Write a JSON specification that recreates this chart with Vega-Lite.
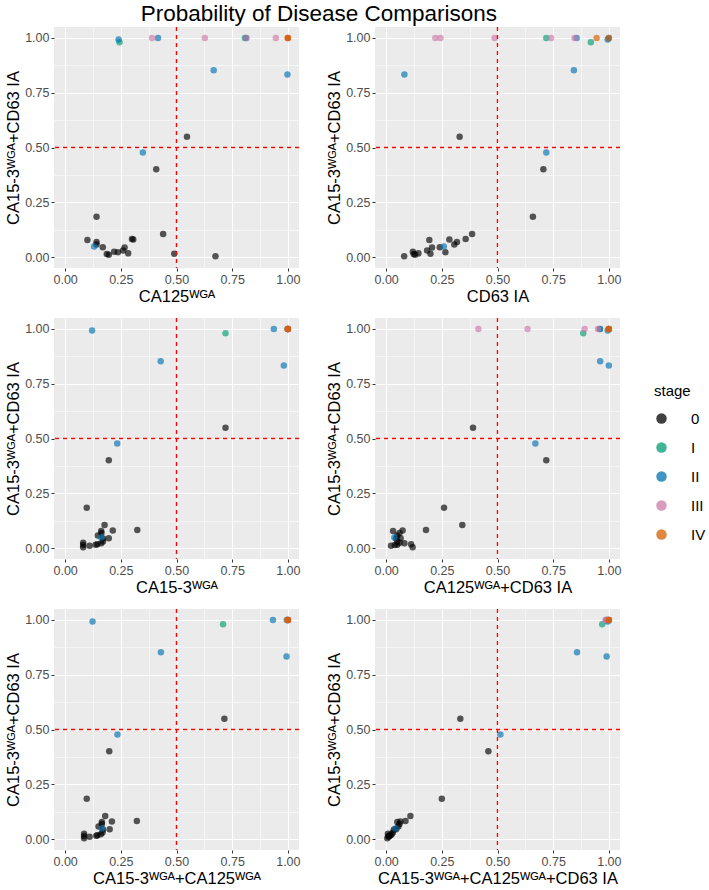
{
  "$schema": "https://vega.github.io/schema/vega-lite/v6.json",
  "padding": {"left": 5, "top": 2, "right": 5, "bottom": 2},
  "title": {"text": "Probability of Disease Comparisons", "fontSize": 22.5, "font": "Liberation Sans", "fontWeight": "normal", "anchor": "start", "frame": "bounds", "dx": 135, "color": "#000000", "offset": 1},
  "data": {"values": [
    {"stage": "0", "y": 0.549, "ca125": 0.547, "cd63": 0.33, "ca153": 0.72, "ca125_cd63": 0.39, "ca153_ca125": 0.715, "all3": 0.333},
    {"stage": "0", "y": 0.401, "ca125": 0.409, "cd63": 0.706, "ca153": 0.196, "ca125_cd63": 0.719, "ca153_ca125": 0.198, "all3": 0.459},
    {"stage": "0", "y": 0.184, "ca125": 0.141, "cd63": 0.659, "ca153": 0.097, "ca125_cd63": 0.26, "ca153_ca125": 0.097, "all3": 0.25},
    {"stage": "0", "y": 0.105, "ca125": 0.44, "cd63": 0.386, "ca153": 0.177, "ca125_cd63": 0.342, "ca153_ca125": 0.18, "all3": 0.109},
    {"stage": "0", "y": 0.082, "ca125": 0.30, "cd63": 0.357, "ca153": 0.324, "ca125_cd63": 0.179, "ca153_ca125": 0.322, "all3": 0.087},
    {"stage": "0", "y": 0.080, "ca125": 0.306, "cd63": 0.284, "ca153": 0.214, "ca125_cd63": 0.074, "ca153_ca125": 0.21, "all3": 0.064},
    {"stage": "0", "y": 0.078, "ca125": 0.10, "cd63": 0.194, "ca153": 0.162, "ca125_cd63": 0.031, "ca153_ca125": 0.165, "all3": 0.05},
    {"stage": "0", "y": 0.069, "ca125": 0.141, "cd63": 0.318, "ca153": 0.163, "ca125_cd63": 0.06, "ca153_ca125": 0.165, "all3": 0.06},
    {"stage": "0", "y": 0.057, "ca125": 0.141, "cd63": 0.306, "ca153": 0.147, "ca125_cd63": 0.05, "ca153_ca125": 0.15, "all3": 0.055},
    {"stage": "0", "y": 0.045, "ca125": 0.169, "cd63": 0.241, "ca153": 0.196, "ca125_cd63": 0.065, "ca153_ca125": 0.2, "all3": 0.045},
    {"stage": "0", "y": 0.044, "ca125": 0.267, "cd63": 0.206, "ca153": 0.17, "ca125_cd63": 0.045, "ca153_ca125": 0.17, "all3": 0.035},
    {"stage": "0", "y": 0.030, "ca125": 0.26, "cd63": 0.184, "ca153": 0.17, "ca125_cd63": 0.05, "ca153_ca125": 0.168, "all3": 0.03},
    {"stage": "0", "y": 0.022, "ca125": 0.237, "cd63": 0.266, "ca153": 0.162, "ca125_cd63": 0.082, "ca153_ca125": 0.16, "all3": 0.025},
    {"stage": "0", "y": 0.017, "ca125": 0.283, "cd63": 0.145, "ca153": 0.145, "ca125_cd63": 0.112, "ca153_ca125": 0.145, "all3": 0.02},
    {"stage": "0", "y": 0.015, "ca125": 0.49, "cd63": 0.199, "ca153": 0.137, "ca125_cd63": 0.05, "ca153_ca125": 0.14, "all3": 0.015},
    {"stage": "0", "y": 0.014, "ca125": 0.187, "cd63": 0.124, "ca153": 0.081, "ca125_cd63": 0.039, "ca153_ca125": 0.085, "all3": 0.01},
    {"stage": "0", "y": 0.010, "ca125": 0.196, "cd63": 0.13, "ca153": 0.11, "ca125_cd63": 0.022, "ca153_ca125": 0.11, "all3": 0.012},
    {"stage": "0", "y": 0.004, "ca125": 0.675, "cd63": 0.081, "ca153": 0.081, "ca125_cd63": 0.119, "ca153_ca125": 0.085, "all3": 0.005},
    {"stage": "0", "y": 0.024, "ca125": 0.22, "cd63": 0.12, "ca153": 0.081, "ca125_cd63": 0.06, "ca153_ca125": 0.085, "all3": 0.008},
    {"stage": "I", "y": 0.98, "ca125": 0.244, "cd63": 0.919, "ca153": 0.72, "ca125_cd63": 0.885, "ca153_ca125": 0.709, "all3": 0.97},
    {"stage": "I", "y": 1.0, "ca125": 0.807, "cd63": 0.719, "ca153": 1.0, "ca125_cd63": 0.96, "ca153_ca125": 0.995, "all3": 0.99},
    {"stage": "II", "y": 0.993, "ca125": 0.24, "cd63": 0.995, "ca153": 0.121, "ca125_cd63": 0.995, "ca153_ca125": 0.123, "all3": 0.995},
    {"stage": "II", "y": 1.0, "ca125": 0.417, "cd63": 0.855, "ca153": 0.937, "ca125_cd63": 0.96, "ca153_ca125": 0.933, "all3": 0.99},
    {"stage": "II", "y": 1.0, "ca125": 0.813, "cd63": 1.0, "ca153": 1.0, "ca125_cd63": 1.0, "ca153_ca125": 1.0, "all3": 1.0},
    {"stage": "II", "y": 0.853, "ca125": 0.667, "cd63": 0.843, "ca153": 0.429, "ca125_cd63": 0.961, "ca153_ca125": 0.43, "all3": 0.857},
    {"stage": "II", "y": 0.833, "ca125": 0.998, "cd63": 0.082, "ca153": 0.982, "ca125_cd63": 1.0, "ca153_ca125": 0.994, "all3": 0.99},
    {"stage": "II", "y": 0.477, "ca125": 0.349, "cd63": 0.719, "ca153": 0.234, "ca125_cd63": 0.67, "ca153_ca125": 0.235, "all3": 0.513},
    {"stage": "II", "y": 0.048, "ca125": 0.13, "cd63": 0.259, "ca153": 0.162, "ca125_cd63": 0.037, "ca153_ca125": 0.165, "all3": 0.042},
    {"stage": "III", "y": 1.0, "ca125": 0.39, "cd63": 0.221, "ca153": 1.0, "ca125_cd63": 0.414, "ca153_ca125": 1.0, "all3": 0.985},
    {"stage": "III", "y": 1.0, "ca125": 0.627, "cd63": 0.244, "ca153": 1.0, "ca125_cd63": 0.635, "ca153_ca125": 1.0, "all3": 0.99},
    {"stage": "III", "y": 1.0, "ca125": 0.946, "cd63": 0.487, "ca153": 1.0, "ca125_cd63": 0.891, "ca153_ca125": 1.0, "all3": 0.995},
    {"stage": "III", "y": 1.0, "ca125": 0.813, "cd63": 0.741, "ca153": 1.0, "ca125_cd63": 0.951, "ca153_ca125": 1.0, "all3": 0.995},
    {"stage": "III", "y": 1.0, "ca125": 1.0, "cd63": 0.846, "ca153": 1.0, "ca125_cd63": 1.0, "ca153_ca125": 1.0, "all3": 1.0},
    {"stage": "IV", "y": 1.0, "ca125": 1.0, "cd63": 0.945, "ca153": 1.0, "ca125_cd63": 1.0, "ca153_ca125": 1.0, "all3": 1.0},
    {"stage": "IV", "y": 1.0, "ca125": 1.0, "cd63": 1.0, "ca153": 1.0, "ca125_cd63": 1.0, "ca153_ca125": 1.0, "all3": 1.0}
  ]},
  "columns": 2,
  "spacing": {"row": 12, "column": 25},
  "concat": [
    {"width": 245, "height": 241, "resolve": {"axis": {"x": "independent", "y": "independent"}}, "layer": [
      {"mark": {"type": "point", "filled": true, "size": 42, "opacity": 0.65},
       "encoding": {
         "x": {"field": "ca125", "type": "quantitative", "scale": {"domain": [-0.05, 1.05], "nice": false, "zero": false}, "axis": {"title": "CA125ᵂᴳᴬ", "values": [0, 0.25, 0.5, 0.75, 1], "format": ".2f"}},
         "y": {"field": "y", "type": "quantitative", "scale": {"domain": [-0.05, 1.05], "nice": false, "zero": false}, "axis": {"title": "CA15-3ᵂᴳᴬ+CD63 IA", "values": [0, 0.25, 0.5, 0.75, 1], "format": ".2f"}},
         "color": {"field": "stage", "type": "nominal", "scale": {"domain": ["0", "I", "II", "III", "IV"], "range": ["#000000", "#009E73", "#0072B2", "#CC79A7", "#D55E00"]}, "legend": {"title": "stage", "orient": "none", "legendX": 600, "legendY": 357}}
       }},
      {"data": {"values": [{}]}, "mark": {"type": "rule", "color": "#FF0000", "strokeDash": [4, 4], "strokeWidth": 1.4},
       "encoding": {"x": {"datum": 0.5, "type": "quantitative", "scale": {"domain": [-0.05, 1.05], "nice": false, "zero": false}, "axis": {"orient": "top", "values": [0.125, 0.375, 0.625, 0.875], "grid": true, "gridWidth": 0.5, "labels": false, "ticks": false, "domain": false, "title": null}}}},
      {"data": {"values": [{}]}, "mark": {"type": "rule", "color": "#FF0000", "strokeDash": [4, 4], "strokeWidth": 1.4},
       "encoding": {"y": {"datum": 0.5, "type": "quantitative", "scale": {"domain": [-0.05, 1.05], "nice": false, "zero": false}, "axis": {"orient": "right", "values": [0.125, 0.375, 0.625, 0.875], "grid": true, "gridWidth": 0.5, "labels": false, "ticks": false, "domain": false, "title": null}}}}
    ]},
    {"width": 245, "height": 241, "resolve": {"axis": {"x": "independent", "y": "independent"}}, "layer": [
      {"mark": {"type": "point", "filled": true, "size": 42, "opacity": 0.65},
       "encoding": {
         "x": {"field": "cd63", "type": "quantitative", "scale": {"domain": [-0.05, 1.05], "nice": false, "zero": false}, "axis": {"title": "CD63 IA", "values": [0, 0.25, 0.5, 0.75, 1], "format": ".2f"}},
         "y": {"field": "y", "type": "quantitative", "scale": {"domain": [-0.05, 1.05], "nice": false, "zero": false}, "axis": {"title": "CA15-3ᵂᴳᴬ+CD63 IA", "values": [0, 0.25, 0.5, 0.75, 1], "format": ".2f"}},
         "color": {"field": "stage", "type": "nominal", "scale": {"domain": ["0", "I", "II", "III", "IV"], "range": ["#000000", "#009E73", "#0072B2", "#CC79A7", "#D55E00"]}, "legend": {"title": "stage", "orient": "none", "legendX": 600, "legendY": 357}}
       }},
      {"data": {"values": [{}]}, "mark": {"type": "rule", "color": "#FF0000", "strokeDash": [4, 4], "strokeWidth": 1.4},
       "encoding": {"x": {"datum": 0.5, "type": "quantitative", "scale": {"domain": [-0.05, 1.05], "nice": false, "zero": false}, "axis": {"orient": "top", "values": [0.125, 0.375, 0.625, 0.875], "grid": true, "gridWidth": 0.5, "labels": false, "ticks": false, "domain": false, "title": null}}}},
      {"data": {"values": [{}]}, "mark": {"type": "rule", "color": "#FF0000", "strokeDash": [4, 4], "strokeWidth": 1.4},
       "encoding": {"y": {"datum": 0.5, "type": "quantitative", "scale": {"domain": [-0.05, 1.05], "nice": false, "zero": false}, "axis": {"orient": "right", "values": [0.125, 0.375, 0.625, 0.875], "grid": true, "gridWidth": 0.5, "labels": false, "ticks": false, "domain": false, "title": null}}}}
    ]},
    {"width": 245, "height": 241, "resolve": {"axis": {"x": "independent", "y": "independent"}}, "layer": [
      {"mark": {"type": "point", "filled": true, "size": 42, "opacity": 0.65},
       "encoding": {
         "x": {"field": "ca153", "type": "quantitative", "scale": {"domain": [-0.05, 1.05], "nice": false, "zero": false}, "axis": {"title": "CA15-3ᵂᴳᴬ", "values": [0, 0.25, 0.5, 0.75, 1], "format": ".2f"}},
         "y": {"field": "y", "type": "quantitative", "scale": {"domain": [-0.05, 1.05], "nice": false, "zero": false}, "axis": {"title": "CA15-3ᵂᴳᴬ+CD63 IA", "values": [0, 0.25, 0.5, 0.75, 1], "format": ".2f"}},
         "color": {"field": "stage", "type": "nominal", "scale": {"domain": ["0", "I", "II", "III", "IV"], "range": ["#000000", "#009E73", "#0072B2", "#CC79A7", "#D55E00"]}, "legend": {"title": "stage", "orient": "none", "legendX": 600, "legendY": 357}}
       }},
      {"data": {"values": [{}]}, "mark": {"type": "rule", "color": "#FF0000", "strokeDash": [4, 4], "strokeWidth": 1.4},
       "encoding": {"x": {"datum": 0.5, "type": "quantitative", "scale": {"domain": [-0.05, 1.05], "nice": false, "zero": false}, "axis": {"orient": "top", "values": [0.125, 0.375, 0.625, 0.875], "grid": true, "gridWidth": 0.5, "labels": false, "ticks": false, "domain": false, "title": null}}}},
      {"data": {"values": [{}]}, "mark": {"type": "rule", "color": "#FF0000", "strokeDash": [4, 4], "strokeWidth": 1.4},
       "encoding": {"y": {"datum": 0.5, "type": "quantitative", "scale": {"domain": [-0.05, 1.05], "nice": false, "zero": false}, "axis": {"orient": "right", "values": [0.125, 0.375, 0.625, 0.875], "grid": true, "gridWidth": 0.5, "labels": false, "ticks": false, "domain": false, "title": null}}}}
    ]},
    {"width": 245, "height": 241, "resolve": {"axis": {"x": "independent", "y": "independent"}}, "layer": [
      {"mark": {"type": "point", "filled": true, "size": 42, "opacity": 0.65},
       "encoding": {
         "x": {"field": "ca125_cd63", "type": "quantitative", "scale": {"domain": [-0.05, 1.05], "nice": false, "zero": false}, "axis": {"title": "CA125ᵂᴳᴬ+CD63 IA", "values": [0, 0.25, 0.5, 0.75, 1], "format": ".2f"}},
         "y": {"field": "y", "type": "quantitative", "scale": {"domain": [-0.05, 1.05], "nice": false, "zero": false}, "axis": {"title": "CA15-3ᵂᴳᴬ+CD63 IA", "values": [0, 0.25, 0.5, 0.75, 1], "format": ".2f"}},
         "color": {"field": "stage", "type": "nominal", "scale": {"domain": ["0", "I", "II", "III", "IV"], "range": ["#000000", "#009E73", "#0072B2", "#CC79A7", "#D55E00"]}, "legend": {"title": "stage", "orient": "none", "legendX": 600, "legendY": 357}}
       }},
      {"data": {"values": [{}]}, "mark": {"type": "rule", "color": "#FF0000", "strokeDash": [4, 4], "strokeWidth": 1.4},
       "encoding": {"x": {"datum": 0.5, "type": "quantitative", "scale": {"domain": [-0.05, 1.05], "nice": false, "zero": false}, "axis": {"orient": "top", "values": [0.125, 0.375, 0.625, 0.875], "grid": true, "gridWidth": 0.5, "labels": false, "ticks": false, "domain": false, "title": null}}}},
      {"data": {"values": [{}]}, "mark": {"type": "rule", "color": "#FF0000", "strokeDash": [4, 4], "strokeWidth": 1.4},
       "encoding": {"y": {"datum": 0.5, "type": "quantitative", "scale": {"domain": [-0.05, 1.05], "nice": false, "zero": false}, "axis": {"orient": "right", "values": [0.125, 0.375, 0.625, 0.875], "grid": true, "gridWidth": 0.5, "labels": false, "ticks": false, "domain": false, "title": null}}}}
    ]},
    {"width": 245, "height": 241, "resolve": {"axis": {"x": "independent", "y": "independent"}}, "layer": [
      {"mark": {"type": "point", "filled": true, "size": 42, "opacity": 0.65},
       "encoding": {
         "x": {"field": "ca153_ca125", "type": "quantitative", "scale": {"domain": [-0.05, 1.05], "nice": false, "zero": false}, "axis": {"title": "CA15-3ᵂᴳᴬ+CA125ᵂᴳᴬ", "values": [0, 0.25, 0.5, 0.75, 1], "format": ".2f"}},
         "y": {"field": "y", "type": "quantitative", "scale": {"domain": [-0.05, 1.05], "nice": false, "zero": false}, "axis": {"title": "CA15-3ᵂᴳᴬ+CD63 IA", "values": [0, 0.25, 0.5, 0.75, 1], "format": ".2f"}},
         "color": {"field": "stage", "type": "nominal", "scale": {"domain": ["0", "I", "II", "III", "IV"], "range": ["#000000", "#009E73", "#0072B2", "#CC79A7", "#D55E00"]}, "legend": {"title": "stage", "orient": "none", "legendX": 600, "legendY": 357}}
       }},
      {"data": {"values": [{}]}, "mark": {"type": "rule", "color": "#FF0000", "strokeDash": [4, 4], "strokeWidth": 1.4},
       "encoding": {"x": {"datum": 0.5, "type": "quantitative", "scale": {"domain": [-0.05, 1.05], "nice": false, "zero": false}, "axis": {"orient": "top", "values": [0.125, 0.375, 0.625, 0.875], "grid": true, "gridWidth": 0.5, "labels": false, "ticks": false, "domain": false, "title": null}}}},
      {"data": {"values": [{}]}, "mark": {"type": "rule", "color": "#FF0000", "strokeDash": [4, 4], "strokeWidth": 1.4},
       "encoding": {"y": {"datum": 0.5, "type": "quantitative", "scale": {"domain": [-0.05, 1.05], "nice": false, "zero": false}, "axis": {"orient": "right", "values": [0.125, 0.375, 0.625, 0.875], "grid": true, "gridWidth": 0.5, "labels": false, "ticks": false, "domain": false, "title": null}}}}
    ]},
    {"width": 245, "height": 241, "resolve": {"axis": {"x": "independent", "y": "independent"}}, "layer": [
      {"mark": {"type": "point", "filled": true, "size": 42, "opacity": 0.65},
       "encoding": {
         "x": {"field": "all3", "type": "quantitative", "scale": {"domain": [-0.05, 1.05], "nice": false, "zero": false}, "axis": {"title": "CA15-3ᵂᴳᴬ+CA125ᵂᴳᴬ+CD63 IA", "values": [0, 0.25, 0.5, 0.75, 1], "format": ".2f"}},
         "y": {"field": "y", "type": "quantitative", "scale": {"domain": [-0.05, 1.05], "nice": false, "zero": false}, "axis": {"title": "CA15-3ᵂᴳᴬ+CD63 IA", "values": [0, 0.25, 0.5, 0.75, 1], "format": ".2f"}},
         "color": {"field": "stage", "type": "nominal", "scale": {"domain": ["0", "I", "II", "III", "IV"], "range": ["#000000", "#009E73", "#0072B2", "#CC79A7", "#D55E00"]}, "legend": {"title": "stage", "orient": "none", "legendX": 600, "legendY": 357}}
       }},
      {"data": {"values": [{}]}, "mark": {"type": "rule", "color": "#FF0000", "strokeDash": [4, 4], "strokeWidth": 1.4},
       "encoding": {"x": {"datum": 0.5, "type": "quantitative", "scale": {"domain": [-0.05, 1.05], "nice": false, "zero": false}, "axis": {"orient": "top", "values": [0.125, 0.375, 0.625, 0.875], "grid": true, "gridWidth": 0.5, "labels": false, "ticks": false, "domain": false, "title": null}}}},
      {"data": {"values": [{}]}, "mark": {"type": "rule", "color": "#FF0000", "strokeDash": [4, 4], "strokeWidth": 1.4},
       "encoding": {"y": {"datum": 0.5, "type": "quantitative", "scale": {"domain": [-0.05, 1.05], "nice": false, "zero": false}, "axis": {"orient": "right", "values": [0.125, 0.375, 0.625, 0.875], "grid": true, "gridWidth": 0.5, "labels": false, "ticks": false, "domain": false, "title": null}}}}
    ]}
  ],
  "config": {
    "view": {"fill": "#EBEBEB", "stroke": null},
    "axis": {"domain": false, "grid": true, "gridColor": "#FFFFFF", "gridWidth": 1.1, "gridOpacity": 1, "tickColor": "#333333", "tickSize": 3, "labelFont": "Liberation Sans", "labelFontSize": 12.5, "labelColor": "#4D4D4D", "titleFont": "Liberation Sans", "titleFontSize": 16.5, "titleFontWeight": "normal", "titleColor": "#000000", "labelPadding": 2, "titlePadding": 3},
    "legend": {"symbolType": "circle", "symbolSize": 110, "symbolOpacity": 0.75, "symbolStrokeWidth": 0, "labelFont": "Liberation Sans", "labelFontSize": 15, "titleFont": "Liberation Sans", "titleFontSize": 15, "titleFontWeight": "normal", "titleColor": "#000000", "labelColor": "#000000", "rowPadding": 13, "titlePadding": 12, "labelOffset": 22}
  }
}
